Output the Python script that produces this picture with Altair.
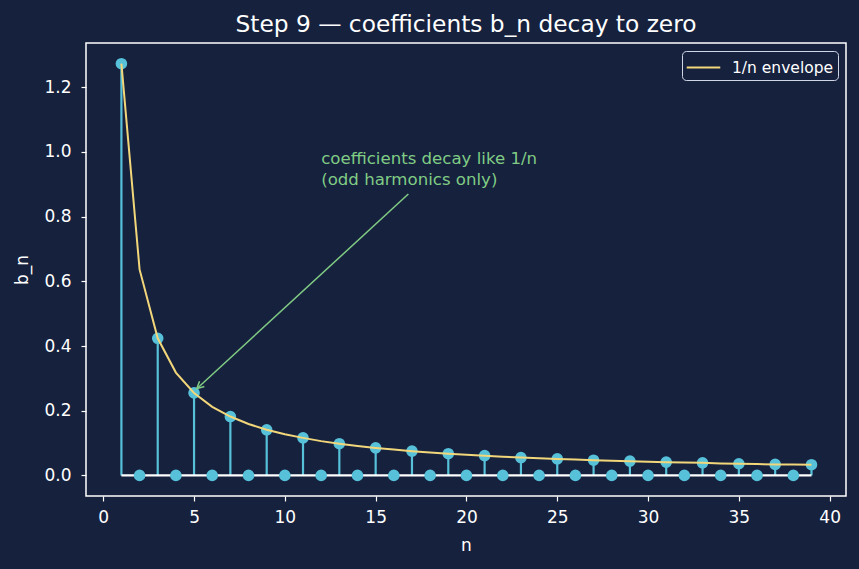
import altair as alt
import pandas as pd

# ---- data ----
n_vals = list(range(1, 40))
b_n = [1.273, 0, 0.424, 0, 0.255, 0, 0.182, 0, 0.141, 0,
       0.116, 0, 0.098, 0, 0.085, 0, 0.075, 0, 0.067, 0,
       0.061, 0, 0.055, 0, 0.051, 0, 0.047, 0, 0.044, 0,
       0.041, 0, 0.039, 0, 0.036, 0, 0.034, 0, 0.033]
envelope = [1.273, 0.637, 0.424, 0.318, 0.255, 0.212, 0.182, 0.159, 0.141, 0.127,
            0.116, 0.106, 0.098, 0.091, 0.085, 0.080, 0.075, 0.071, 0.067, 0.064,
            0.061, 0.058, 0.055, 0.053, 0.051, 0.049, 0.047, 0.045, 0.044, 0.042,
            0.041, 0.040, 0.039, 0.037, 0.036, 0.035, 0.034, 0.034, 0.033]
baseline_x = [1, 39]
x_ticks = [0, 5, 10, 15, 20, 25, 30, 35, 40]
y_ticks = [0.0, 0.2, 0.4, 0.6, 0.8, 1.0, 1.2]
note_text = ["coefficients decay like 1/n", "(odd harmonics only)"]
note_pos = [12.0, 0.9]
arrow_from = [16.8, 0.870]
arrow_to = [5.15, 0.268]

BG = "#16213e"
CYAN = "#56c1d9"
YELLOW = "#f2d67a"
GREEN = "#80cc84"
FG = "#ffffff"
FONT = "DejaVu Sans"

stem_df = pd.DataFrame({"n": n_vals, "b": b_n, "zero": [0] * len(n_vals)})
env_df = pd.DataFrame({"n": n_vals, "env": envelope, "series": ["1/n envelope"] * len(n_vals)})
base_df = pd.DataFrame({"x": [baseline_x[0]], "x2": [baseline_x[1]], "y": [0]})
arrow_df = pd.DataFrame({"x": [arrow_from[0]], "y": [arrow_from[1]],
                         "x2": [arrow_to[0]], "y2": [arrow_to[1]]})
head_df = pd.DataFrame({"x": [arrow_to[0]], "y": [arrow_to[1]]})
note_df = pd.DataFrame({"x": [note_pos[0]], "y": [note_pos[1]], "t": [note_text]})

xs = alt.Scale(domain=[-0.95, 40.9], nice=False, zero=False)
ys = alt.Scale(domain=[-0.0637, 1.337], nice=False, zero=False)

x_axis = alt.Axis(values=x_ticks, title="n", grid=False, domain=False,
                  tickColor=FG, tickSize=5, tickWidth=1.2, labelColor=FG,
                  labelFontSize=17, labelFont=FONT, labelPadding=8,
                  titleColor=FG, titleFontSize=17, titleFont=FONT,
                  titleFontWeight="normal", titlePadding=12)
y_axis = alt.Axis(values=y_ticks, title="b_n", format=".1f", grid=False, domain=False,
                  tickColor=FG, tickSize=5, tickWidth=1.2, labelColor=FG,
                  labelFontSize=17, labelFont=FONT, labelPadding=10,
                  titleColor=FG, titleFontSize=17, titleFont=FONT,
                  titleFontWeight="normal", titlePadding=12)

stems = alt.Chart(stem_df).mark_rule(color=CYAN, strokeWidth=2.2).encode(
    x=alt.X("n:Q", scale=xs, axis=x_axis),
    y=alt.Y("zero:Q", scale=ys, axis=y_axis),
    y2="b:Q",
)
base = alt.Chart(base_df).mark_rule(color=FG, strokeWidth=2.4).encode(
    x=alt.X("x:Q", scale=xs), x2="x2:Q", y=alt.Y("y:Q", scale=ys)
)
points = alt.Chart(stem_df).mark_circle(color=CYAN, size=135, opacity=1).encode(
    x=alt.X("n:Q", scale=xs), y=alt.Y("b:Q", scale=ys)
)
env = alt.Chart(env_df).mark_line(strokeWidth=2).encode(
    x=alt.X("n:Q", scale=xs), y=alt.Y("env:Q", scale=ys),
    color=alt.Color("series:N", scale=alt.Scale(domain=["1/n envelope"], range=[YELLOW]),
                    legend=alt.Legend(title=None, orient="top-right", offset=8,
                                      fillColor=BG, strokeColor="#d0d6e6", cornerRadius=4,
                                      padding=4, symbolType="M -1.5 0 L 1.5 0", symbolSize=500,
                                      symbolOffset=5, labelOffset=16,
                                      symbolStrokeWidth=2.2, labelColor=FG,
                                      labelFontSize=15.5, labelFont=FONT)),
)
arrow = alt.Chart(arrow_df).mark_rule(color=GREEN, strokeWidth=1.5).encode(
    x=alt.X("x:Q", scale=xs), y=alt.Y("y:Q", scale=ys), x2="x2:Q", y2="y2:Q"
)
head = alt.Chart(head_df).mark_point(
    shape="M -0.5 1 L 0 0 L 0.5 1", filled=False, color=GREEN, strokeWidth=1.5,
    size=200, angle=227, opacity=1
).encode(x=alt.X("x:Q", scale=xs), y=alt.Y("y:Q", scale=ys))
note = alt.Chart(note_df).mark_text(
    align="left", baseline="alphabetic", color=GREEN, fontSize=16.6, font=FONT,
    lineHeight=21, dy=-20.4
).encode(x=alt.X("x:Q", scale=xs), y=alt.Y("y:Q", scale=ys), text="t")

chart = alt.layer(stems, base, points, env, arrow, head, note).properties(
    width=760, height=453,
    title=alt.TitleParams("Step 9 \u2014 coefficients b_n decay to zero", color=FG,
                          fontSize=23.3, font=FONT, fontWeight="normal", offset=6,
                          anchor="middle"),
    autosize=alt.AutoSizeParams(type="none"),
    padding={"left": 86, "top": 43, "right": 13, "bottom": 73},
).configure(background=BG).configure_view(stroke=FG, strokeWidth=1.5, fill=BG)

chart.save("out.html", embed_options={"renderer": "svg", "actions": False})
